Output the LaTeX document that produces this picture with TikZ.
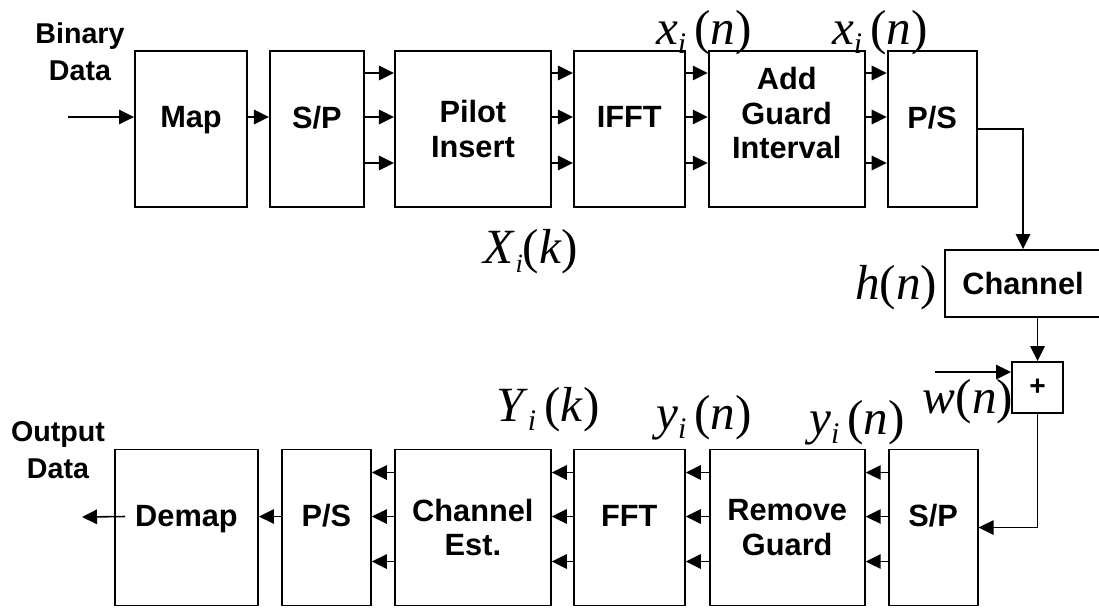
\documentclass[tikz,border=0pt]{standalone}
\usepackage{fontspec}
\setmainfont{Liberation Sans}
\newfontfamily\tnr{Liberation Serif}
\usepackage{tikz}
\usetikzlibrary{arrows.meta, positioning}
\newcommand{\blkfont}{\fontsize{17.5}{19.6}\selectfont\bfseries}
\newcommand{\datafont}{\fontsize{16.3}{21}\selectfont\bfseries}
\newcommand{\sigfont}{\tnr\fontsize{28}{28}\selectfont}
\newcommand{\sig}[3]{{\sigfont\textit{#1}\raisebox{-0.4ex}{\fontsize{17}{17}\selectfont\textit{#2}}\,(\textit{#3})}}
\tikzset{
  blk/.style={rectangle,draw,line width=1.1pt,minimum width=#1,
    minimum height=3.12cm,align=center,font=\blkfont,inner sep=0pt},
  lift/.style={text depth=#1},
  arr/.style={-{Triangle[length=3mm,width=2.9mm]},line width=0.9pt},
  sigl/.style={inner sep=0pt},
  datal/.style={align=center,font=\datafont,inner sep=0pt},
}

\begin{document}
\begin{tikzpicture}[node distance=0.42cm]
    \useasboundingbox (0,0) rectangle (21.98,-12.2);
    % transmitter
    \node[blk=2.24cm,lift=0.48cm] (map) at (3.82,-2.58) {Map};
    \node[blk=1.88cm,lift=0.48cm,right=0.42cm of map] (sp) {S/P};
    \node[blk=3.12cm,right=0.58cm of sp] (pilot) {Pilot\\Insert};
    \node[blk=2.22cm,lift=0.48cm,right=0.42cm of pilot] (ifft) {IFFT};
    \node[blk=3.12cm,lift=0.64cm,right=0.44cm of ifft] (agi) {Add\\Guard\\Interval};
    \node[blk=1.78cm,lift=0.48cm,right=0.42cm of agi] (ps) {P/S};
    % channel
    \node[rectangle,draw,line width=1.1pt,minimum width=3.12cm,minimum height=1.34cm,
      font=\blkfont] (chan) at (20.46,-5.67) {Channel};
    \node[rectangle,draw,line width=1.1pt,minimum size=1.02cm,
      font=\fontsize{16}{16}\selectfont\bfseries] (plus) at (20.75,-7.75) {+};
    % receiver
    \node[blk=2.86cm,lift=0.48cm] (demap) at (3.73,-10.55) {Demap};
    \node[blk=1.78cm,lift=0.48cm,right=0.44cm of demap] (ps2) {P/S};
    \node[blk=3.12cm,right=0.44cm of ps2] (est) {Channel\\Est.};
    \node[blk=2.22cm,lift=0.48cm,right=0.42cm of est] (fft) {FFT};
    \node[blk=3.1cm,right=0.46cm of fft] (rg) {Remove\\Guard};
    \node[blk=1.78cm,lift=0.48cm,right=0.44cm of rg] (sp2) {S/P};

    \node[datal] (bin) at (1.6,-1.04) {Binary\\Data};
    \node[datal] (out) at (1.16,-9.0) {Output\\Data};
    \node[sigl] (xn1) at (14.08,-0.66) {\sig{x}{i}{n}};
    \node[sigl] (xn2) at (17.6,-0.66) {\sig{x}{i}{n}};
    \node[sigl] (xk) at (10.62,-5.04) {{\sigfont\textit{X}\raisebox{-0.4ex}{\fontsize{15}{15}\selectfont\textit{i}}(\textit{k})}};
    \node[sigl] (hn) at (17.92,-5.76) {{\sigfont\textit{h}(\textit{n})}};
    \node[sigl] (wn) at (19.36,-8.04) {{\sigfont\textit{w}(\textit{n})}};
    \node[sigl] (yk) at (10.96,-8.2) {\sig{Y}{i}{k}};
    \node[sigl] (yn1) at (14.08,-8.36) {\sig{y}{i}{n}};
    \node[sigl] (yn2) at (17.14,-8.46) {\sig{y}{i}{n}};

    \coordinate (in) at (1.36,-2.34);
    \coordinate (noise) at (18.7,-7.44);
    \coordinate (sink) at (1.64,-10.34);

    \draw[arr] (in) -- ([yshift=0.24cm]map.west);
    \draw[arr] ([yshift=0.24cm]map.east) -- ([yshift=0.24cm]sp.west);
    \foreach \a/\b in {sp/pilot,pilot/ifft,ifft/agi,agi/ps}
      \foreach \dy in {1.12,0.24,-0.68}
        \draw[arr] ([yshift=\dy cm]\a.east) -- ([yshift=\dy cm]\b.west);
    \draw[arr] (ps.east) -| (chan.north);
    \draw[arr] (plus.north |- chan.south) -- (plus.north);
    \draw[arr] (noise) -- ([yshift=0.31cm]plus.west);
    \draw[arr] (plus.south) |- (sp2.east);
    \foreach \a/\b in {sp2/rg,rg/fft,fft/est,est/ps2}
      \foreach \dy in {1.1,0.22,-0.68}
        \draw[arr] ([yshift=\dy cm]\a.west) -- ([yshift=\dy cm]\b.east);
    \draw[arr] ([yshift=0.22cm]ps2.west) -- ([yshift=0.22cm]demap.east);
    \draw[arr] ([xshift=0.22cm,yshift=0.22cm]demap.west) -- (sink);
  \end{tikzpicture}
\end{document}
